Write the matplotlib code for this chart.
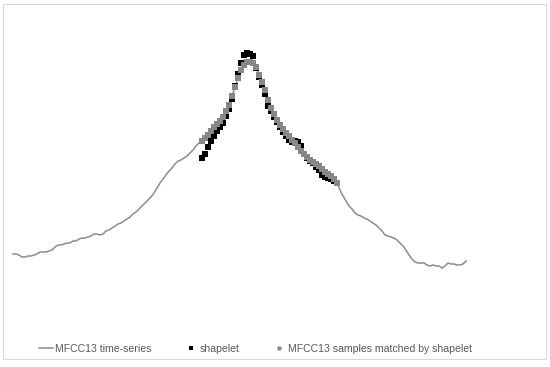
import matplotlib
matplotlib.use('Agg')
import matplotlib.pyplot as plt
from matplotlib.lines import Line2D
from matplotlib.patches import Rectangle
import numpy as np

plt.rcParams['font.family'] = ['Liberation Sans', 'DejaVu Sans']

# MFCC13 time-series (one value per frame)
series = [46, 46, 45, 43, 43, 44, 44, 45, 46, 48,
          48, 48, 49, 50, 53, 55, 55, 56, 57, 57,
          59, 59, 61, 62, 62, 63, 64, 66, 66, 65,
          66, 69, 70, 72, 74, 76, 77, 79, 81, 83,
          86, 88, 91, 94, 97, 100, 103, 107, 112, 117,
          121, 125, 129, 132, 136, 139, 140, 142, 144, 147,
          150, 154, 157, 159, 162, 165, 169, 173, 176, 179,
          183, 189, 195, 204, 213, 222, 230, 235, 238, 238,
          237, 233, 225, 218, 210, 200, 192, 186, 180, 175,
          171, 167, 164, 160, 157, 153, 149, 146, 143, 140,
          138, 136, 134, 131, 128, 126, 124, 121, 117, 110,
          104, 99, 94, 91, 87, 85, 84, 82, 81, 79,
          77, 75, 72, 69, 65, 64, 63, 62, 60, 57,
          54, 50, 45, 41, 38, 37, 37, 37, 35, 34,
          35, 34, 34, 32, 34, 37, 36, 36, 35, 35,
          36, 39]

# frames of the series matched by the shapelet
match_start = 63
match_end = 108

# shapelet values
shapelet = [142, 146, 153, 159, 164, 169, 173, 177, 184, 191,
            201, 214, 226, 237, 245, 247, 246, 244, 232, 223,
            215, 206, 194, 189, 183, 178, 173, 168, 164, 160,
            158, 159, 158, 154, 146, 142, 139, 137, 133, 130,
            125, 123, 122, 121, 119, 117]

x = np.arange(len(series))
xm = np.arange(match_start, match_end + 1)
matched = series[match_start:match_end + 1]

fig = plt.figure(figsize=(5.5, 3.67), dpi=100)
ax = fig.add_axes([0, 0, 1, 1])
ax.axis('off')

line_color = '#8c8c8c'
ax.plot(x, series, color=line_color, lw=1.1, zorder=1)
ax.plot(xm, shapelet, 's', color='black', ms=3.8, mew=0, zorder=2)
ax.plot(xm, matched, 's', color='#878787', ms=3.8, mew=0, zorder=3)

ax.set_xlim(-13 / 3, 537 / 3)
ax.set_ylim(-67, 300)

# chart area border
W, H = 550, 367
fig.patches.append(Rectangle((2.5 / W, 1 - 359 / H), 543.5 / W, 355.5 / H,
                             transform=fig.transFigure, fill=False,
                             edgecolor='#d9d9d9', lw=0.8))

handles = [
    Line2D([], [], color=line_color, lw=1.1),
    Line2D([], [], marker='s', color='black', ls='none', ms=3.2, mew=0),
    Line2D([], [], marker='o', color='#878787', ls='none', ms=3.2, mew=0),
]
labels = ['MFCC13 time-series', 'shapelet', 'MFCC13 samples matched by shapelet']
fig.legend(handles, labels, loc='center left', bbox_to_anchor=(39 / W, 1 - 349 / H),
           ncol=3, frameon=False, fontsize=7.6, labelcolor='#595959',
           handlelength=1.33, handletextpad=0.15, columnspacing=3.1,
           borderpad=0, borderaxespad=0)

fig.savefig('out.png', dpi=100, facecolor='white')
